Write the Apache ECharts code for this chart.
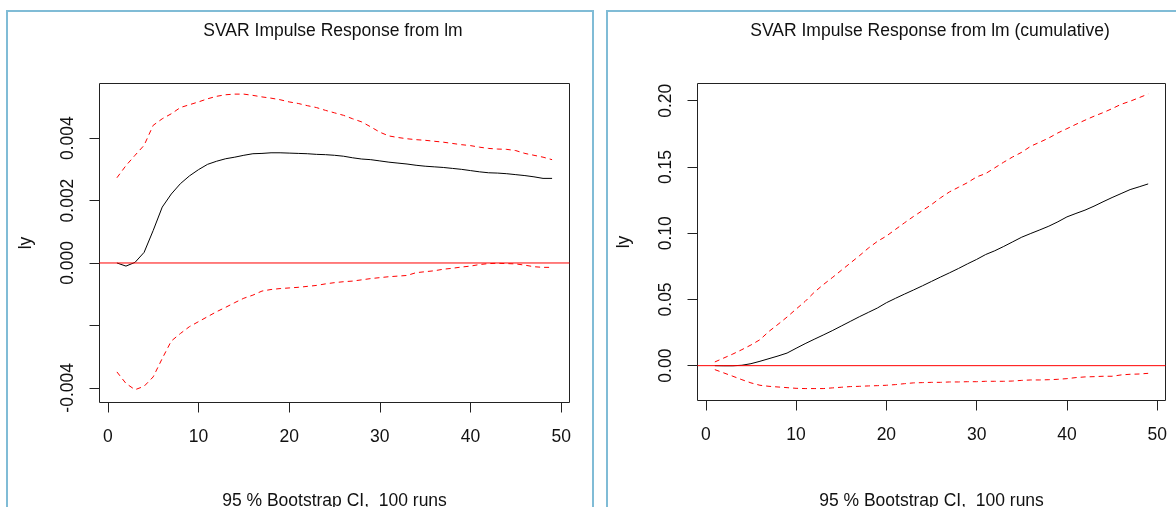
<!DOCTYPE html>
<html>
<head>
<meta charset="utf-8">
<script src="https://cdn.jsdelivr.net/npm/echarts@6/dist/echarts.min.js"></script>
<style>
  html, body { margin: 0; padding: 0; background: #fff; }
  #chart { width: 1176px; height: 507px; }
</style>
</head>
<body>
<div id="chart"></div>
<script>
// horizon steps 1..49
const steps = [1, 2, 3, 4, 5, 6, 7, 8, 9, 10, 11, 12, 13, 14, 15, 16, 17, 18, 19, 20,
  21, 22, 23, 24, 25, 26, 27, 28, 29, 30, 31, 32, 33, 34, 35, 36, 37, 38, 39, 40,
  41, 42, 43, 44, 45, 46, 47, 48, 49];

// impulse response of ly to lm
const irf = [0, -0.0001, 0.00002, 0.00034, 0.00104, 0.00179, 0.00221, 0.00254, 0.00279, 0.00299,
  0.00316, 0.00326, 0.00334, 0.00339, 0.00345, 0.0035, 0.00351, 0.00353, 0.00353, 0.00352,
  0.00351, 0.0035, 0.00348, 0.00347, 0.00345, 0.00342, 0.00337, 0.00333, 0.00331, 0.00327,
  0.00323, 0.0032, 0.00317, 0.00313, 0.0031, 0.00308, 0.00306, 0.00303, 0.003, 0.00296,
  0.00292, 0.00289, 0.00288, 0.00286, 0.00283, 0.0028, 0.00276, 0.00271, 0.00271];
const irfUpper = [0.00273, 0.00312, 0.00345, 0.00377, 0.00441, 0.00462, 0.00478, 0.00498, 0.00507, 0.00516,
  0.00526, 0.00534, 0.00539, 0.00541, 0.00541, 0.00537, 0.00532, 0.00528, 0.00523, 0.00516,
  0.00511, 0.00504, 0.00498, 0.00489, 0.00481, 0.00473, 0.00462, 0.00452, 0.00436, 0.00419,
  0.00407, 0.00402, 0.00398, 0.00395, 0.00393, 0.0039, 0.00387, 0.00383, 0.00379, 0.00376,
  0.00371, 0.00367, 0.00365, 0.00364, 0.0036, 0.00351, 0.00345, 0.00339, 0.00331];
const irfLower = [-0.00349, -0.00386, -0.00406, -0.00395, -0.00365, -0.00306, -0.0025, -0.00226, -0.00204, -0.00188,
  -0.00172, -0.00156, -0.00142, -0.00127, -0.00113, -0.00103, -0.0009, -0.00085, -0.00082, -0.0008,
  -0.00078, -0.00075, -0.00072, -0.00067, -0.00063, -0.0006, -0.00058, -0.00054, -0.0005, -0.00047,
  -0.00044, -0.00042, -0.0004, -0.00031, -0.00028, -0.00025, -0.0002, -0.00017, -0.00013, -0.0001,
  -0.00005, -0.00002, -0.00001, -0.00002, -0.00003, -0.00007, -0.00012, -0.00014, -0.00014];

// cumulative response
const cum = [0, -0.0001, -0.0001, 0.0003, 0.0015, 0.0033, 0.0053, 0.0073, 0.0095, 0.0131,
  0.0166, 0.0199, 0.0231, 0.0264, 0.0299, 0.0334, 0.0369, 0.0402, 0.0435, 0.0475,
  0.0508, 0.054, 0.0571, 0.0603, 0.0636, 0.0669, 0.0701, 0.0734, 0.0769, 0.0802,
  0.0839, 0.0867, 0.09, 0.0935, 0.097, 0.0998, 0.1025, 0.1053, 0.1086, 0.1123,
  0.1149, 0.1174, 0.1204, 0.1237, 0.1269, 0.1299, 0.1329, 0.135, 0.1372];
const cumUpper = [0.0028, 0.0058, 0.0088, 0.0121, 0.0156, 0.0196, 0.0259, 0.0312, 0.0367, 0.0427,
  0.0485, 0.0553, 0.0611, 0.0664, 0.0719, 0.0774, 0.0829, 0.0887, 0.0938, 0.0978,
  0.1028, 0.1078, 0.1126, 0.1171, 0.1216, 0.1267, 0.1312, 0.1347, 0.1382, 0.1425,
  0.145, 0.1493, 0.1536, 0.1576, 0.1611, 0.1657, 0.1687, 0.1719, 0.1757, 0.1789,
  0.1822, 0.1853, 0.1883, 0.191, 0.194, 0.1973, 0.1996, 0.2023, 0.2051];
const cumLower = [-0.003, -0.0055, -0.008, -0.0106, -0.013, -0.0148, -0.0156, -0.0161, -0.0166, -0.0171,
  -0.0173, -0.0173, -0.0173, -0.0168, -0.0163, -0.0158, -0.0156, -0.0153, -0.0151, -0.0148,
  -0.0143, -0.0136, -0.013, -0.0128, -0.0126, -0.0126, -0.0123, -0.0123, -0.0121, -0.0121,
  -0.0118, -0.0118, -0.0118, -0.0116, -0.0111, -0.0108, -0.0108, -0.0106, -0.0103, -0.0098,
  -0.009, -0.0085, -0.0083, -0.008, -0.008, -0.007, -0.0065, -0.0063, -0.0058];

// tick labels
const xTicks = [0, 10, 20, 30, 40, 50];
const yTicksLeft = [-0.004, -0.002, 0, 0.002, 0.004];
const yLabelsLeft = [-0.004, 0, 0.002, 0.004];
const yTicksRight = [0, 0.05, 0.1, 0.15, 0.2];

const X_MIN = -0.92, X_MAX = 50.92;
const FONT = '"Liberation Sans", Arial, sans-serif';
const FS = 17.5;
const xTitle = '95 % Bootstrap CI,  100 runs';

const pairs = arr => steps.map((s, i) => [s, arr[i]]);

function xAxisFor(idx, gap) {
  return {
    gridIndex: idx, type: 'value', min: X_MIN, max: X_MAX, position: 'bottom',
    name: xTitle, nameLocation: 'middle', nameGap: gap,
    nameTextStyle: { fontFamily: FONT, fontSize: FS, color: '#111' },
    axisLine: { show: false, onZero: false },
    splitLine: { show: false },
    axisTick: { show: true, inside: false, length: 10, customValues: xTicks, lineStyle: { color: '#222' } },
    axisLabel: { customValues: xTicks, margin: 26, fontFamily: FONT, fontSize: FS, color: '#111' }
  };
}

function yAxisFor(idx, min, max, ticks, labels, fmt) {
  return {
    gridIndex: idx, type: 'value', min: min, max: max, position: 'left',
    name: 'ly', nameLocation: 'middle', nameRotate: 90, nameGap: 64,
    nameTextStyle: { fontFamily: FONT, fontSize: FS, color: '#111' },
    axisLine: { show: false, onZero: false },
    splitLine: { show: false },
    axisTick: { show: true, inside: false, length: 10, customValues: ticks, lineStyle: { color: '#222' } },
    axisLabel: {
      customValues: labels, rotate: 90, margin: 22,
      fontFamily: FONT, fontSize: FS, color: '#111',
      formatter: v => v.toFixed(fmt)
    }
  };
}

function line(idx, arr, color, dashed) {
  return {
    type: 'line', xAxisIndex: idx, yAxisIndex: idx,
    data: pairs(arr), showSymbol: false, symbol: 'none', silent: true,
    lineStyle: { color: color, width: 1, type: dashed ? [5, 4] : 'solid' }
  };
}

// horizontal reference at zero, across the whole plot
function zeroLine(idx) {
  return {
    type: 'line', xAxisIndex: idx, yAxisIndex: idx, z: 5,
    data: [[X_MIN, 0], [X_MAX, 0]], showSymbol: false, symbol: 'none', silent: true,
    lineStyle: { color: '#ff0000', width: 1 }
  };
}

const chart = echarts.init(document.getElementById('chart'), null, { renderer: 'canvas' });
chart.setOption({
  animation: false,
  backgroundColor: '#fff',
  graphic: [
    { type: 'rect', shape: { x: 7, y: 11, width: 586, height: 520 },
      style: { fill: 'none', stroke: '#80bcd6', lineWidth: 2 } },
    { type: 'rect', shape: { x: 607, y: 11, width: 600, height: 520 },
      style: { fill: 'none', stroke: '#80bcd6', lineWidth: 2 } }
  ],
  title: [
    { text: 'SVAR Impulse Response from lm', left: 333, top: 22, textAlign: 'center', padding: 0,
      textStyle: { fontFamily: FONT, fontSize: FS, fontWeight: 'normal', color: '#111' } },
    { text: 'SVAR Impulse Response from lm (cumulative)', left: 930, top: 22, textAlign: 'center', padding: 0,
      textStyle: { fontFamily: FONT, fontSize: FS, fontWeight: 'normal', color: '#111' } }
  ],
  grid: [
    { left: 99.5, top: 83.5, width: 470, height: 319, containLabel: false, outerBoundsMode: 'none',
      show: true, borderColor: '#222', borderWidth: 1, backgroundColor: 'transparent' },
    { left: 697.5, top: 83.5, width: 468, height: 317, containLabel: false, outerBoundsMode: 'none',
      show: true, borderColor: '#222', borderWidth: 1, backgroundColor: 'transparent' }
  ],
  xAxis: [xAxisFor(0, 90), xAxisFor(1, 92)],
  yAxis: [
    yAxisFor(0, -0.00447, 0.00575, yTicksLeft, yLabelsLeft, 3),
    yAxisFor(1, -0.0263, 0.213, yTicksRight, yTicksRight, 2)
  ],
  series: [
    zeroLine(0),
    line(0, irf, '#000', false),
    line(0, irfUpper, '#ff0000', true),
    line(0, irfLower, '#ff0000', true),
    zeroLine(1),
    line(1, cum, '#000', false),
    line(1, cumUpper, '#ff0000', true),
    line(1, cumLower, '#ff0000', true)
  ]
});
</script>
</body>
</html>
